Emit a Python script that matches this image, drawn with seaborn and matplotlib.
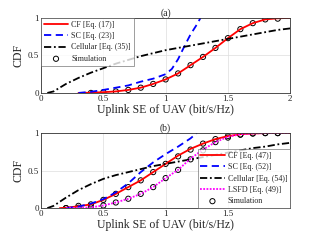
import numpy as np
import pandas as pd
import matplotlib
matplotlib.use("Agg")
import matplotlib.pyplot as plt
import seaborn as sns

# ---------------- data: panel (a) ----------------
a_cf_x = [0.3, 0.4, 0.5, 0.6, 0.7, 0.8, 0.9, 1.0, 1.1, 1.2, 1.3, 1.4, 1.5, 1.6, 1.7, 1.8, 1.9, 2.0]
a_cf_y = [0.0, 0.003, 0.01, 0.02, 0.04, 0.07, 0.12, 0.18, 0.26, 0.37, 0.48, 0.60, 0.73, 0.85, 0.93, 0.98, 0.995, 1.0]
a_sc_x = [0.3, 0.4, 0.5, 0.6, 0.7, 0.8, 0.9, 1.0, 1.05, 1.1, 1.15, 1.2, 1.25, 1.28]
a_sc_y = [0.0, 0.015, 0.04, 0.07, 0.1, 0.15, 0.19, 0.25, 0.32, 0.45, 0.62, 0.78, 0.91, 1.0]
a_cell_x = [0.05, 0.1, 0.15, 0.2, 0.3, 0.4, 0.5, 0.6, 0.7, 0.8, 0.9, 1.0, 1.1, 1.2, 1.3, 1.4, 1.5, 1.6, 1.7, 1.8, 1.9, 2.0]
a_cell_y = [0.0, 0.02, 0.07, 0.12, 0.2, 0.27, 0.33, 0.39, 0.44, 0.49, 0.53, 0.57, 0.6, 0.63, 0.66, 0.69, 0.72, 0.75, 0.78, 0.81, 0.84, 0.86]
a_sim_x = [0.4, 0.5, 0.6, 0.7, 0.8, 0.9, 1.0, 1.1, 1.2, 1.3, 1.4, 1.5, 1.6, 1.7, 1.8, 1.9]
a_sim_y = [0.0, 0.01, 0.02, 0.04, 0.07, 0.12, 0.18, 0.26, 0.37, 0.48, 0.60, 0.73, 0.85, 0.93, 0.98, 0.99]

# ---------------- data: panel (b) ----------------
b_cf_x = [0.15, 0.2, 0.3, 0.4, 0.5, 0.6, 0.7, 0.8, 0.9, 1.0, 1.1, 1.2, 1.3, 1.4, 1.5, 1.6, 1.7, 1.8, 1.9, 2.0]
b_cf_y = [0.0, 0.005, 0.025, 0.05, 0.11, 0.19, 0.28, 0.37, 0.48, 0.59, 0.70, 0.79, 0.86, 0.92, 0.96, 0.985, 0.995, 1.0, 1.0, 1.0]
b_sc_x = [0.2, 0.3, 0.4, 0.5, 0.6, 0.7, 0.8, 0.9, 1.0, 1.1, 1.2, 1.25]
b_sc_y = [0.0, 0.02, 0.06, 0.12, 0.21, 0.33, 0.48, 0.61, 0.72, 0.82, 0.93, 1.0]
b_cell_x = [0.05, 0.1, 0.2, 0.3, 0.4, 0.5, 0.6, 0.7, 0.8, 0.9, 1.0, 1.1, 1.2, 1.3, 1.4, 1.5, 1.6, 1.7, 1.8, 1.9, 2.0]
b_cell_y = [0.0, 0.03, 0.14, 0.24, 0.32, 0.39, 0.44, 0.48, 0.52, 0.56, 0.59, 0.62, 0.65, 0.68, 0.71, 0.74, 0.77, 0.8, 0.82, 0.85, 0.87]
b_lsfd_x = [0.2, 0.3, 0.4, 0.5, 0.6, 0.7, 0.8, 0.9, 1.0, 1.1, 1.2, 1.3, 1.4, 1.5, 1.6, 1.7, 1.8, 1.9, 2.0]
b_lsfd_y = [0.0, 0.003, 0.01, 0.035, 0.075, 0.125, 0.19, 0.28, 0.40, 0.51, 0.66, 0.78, 0.88, 0.95, 0.985, 0.995, 1.0, 1.0, 1.0]
b_sim_x = [0.2, 0.3, 0.4, 0.5, 0.6, 0.7, 0.8, 0.9, 1.0, 1.1, 1.2, 1.3, 1.4, 1.5, 1.6, 1.7, 1.8, 1.9]
b_sim_cf_y = [0.0, 0.03, 0.05, 0.11, 0.19, 0.28, 0.37, 0.48, 0.59, 0.69, 0.78, 0.86, 0.92, 0.96, 0.98, 0.995, 1.0, 1.0]
b_sim_lsfd_y = [0.0, 0.005, 0.01, 0.035, 0.075, 0.125, 0.19, 0.28, 0.40, 0.51, 0.65, 0.77, 0.88, 0.94, 0.98, 0.995, 1.0, 1.0]

xlabel = "Uplink SE of UAV (bit/s/Hz)"
ylabel = "CDF"

sns.set_style("whitegrid")
plt.rcParams['font.family'] = ['Liberation Serif', 'DejaVu Serif']

fig = plt.figure(figsize=(3.21, 2.42), dpi=100)
axA = fig.add_axes([0.128, 0.616, 0.776, 0.31])
axB = fig.add_axes([0.128, 0.14, 0.776, 0.31])

lw = 1.3

def style_axis(ax, title, xticks, xticklabels):
    ax.set_xlim(0, 2)
    ax.set_ylim(0, 1)
    ax.set_xticks(xticks)
    ax.set_xticklabels(xticklabels)
    ax.set_yticks([0, 0.5, 1])
    ax.set_yticklabels(["0", "0.5", "1"])
    ax.tick_params(labelsize=6.5, length=0, pad=1.5)
    ax.set_xlabel(xlabel, fontsize=8.5, labelpad=0.5)
    ax.set_ylabel(ylabel, fontsize=8.5, labelpad=2)
    ax.set_title(title, fontsize=7, pad=1.5)
    ax.grid(True, color="#dddddd", linewidth=0.5)
    for s in ax.spines.values():
        s.set_color("#333333")
        s.set_linewidth(0.6)

# panel (a)
sns.lineplot(x=a_cf_x, y=a_cf_y, ax=axA, color="red", lw=lw, label="CF [Eq. (17)]")
sns.lineplot(x=a_sc_x, y=a_sc_y, ax=axA, color="blue", lw=lw, linestyle=(0, (4, 2.5)), label="SC [Eq. (23)]")
sns.lineplot(x=a_cell_x, y=a_cell_y, ax=axA, color="black", lw=lw, linestyle=(0, (4, 1.5, 1, 1.5)), label="Cellular [Eq. (35)]")
sns.scatterplot(x=a_sim_x, y=a_sim_y, ax=axA, marker="o", s=14, facecolors="none", edgecolor="black", linewidth=0.7, label="Simulation")
style_axis(axA, "(a)", [0, 0.5, 1, 1.5, 2], ["0", "0.5", "1", "1.5", "2"])
legA = axA.legend(loc="upper left", fontsize=5.8, frameon=True, fancybox=False, borderpad=0.35,
                  handlelength=3.0, handletextpad=0.4, labelspacing=0.42, borderaxespad=0)
legA.get_frame().set_edgecolor("#555555")
legA.get_frame().set_linewidth(0.5)

# panel (b)
sns.lineplot(x=b_cf_x, y=b_cf_y, ax=axB, color="red", lw=lw, label="CF [Eq. (47)]")
sns.lineplot(x=b_sc_x, y=b_sc_y, ax=axB, color="blue", lw=lw, linestyle=(0, (4, 2.5)), label="SC [Eq. (52)]")
sns.lineplot(x=b_cell_x, y=b_cell_y, ax=axB, color="black", lw=lw, linestyle=(0, (4, 1.5, 1, 1.5)), label="Cellular [Eq. (54)]")
sns.lineplot(x=b_lsfd_x, y=b_lsfd_y, ax=axB, color="magenta", lw=lw, linestyle=(0, (1, 0.8)), label="LSFD [Eq. (49)]")
sns.scatterplot(x=b_sim_x, y=b_sim_cf_y, ax=axB, marker="o", s=14, facecolors="none", edgecolor="black", linewidth=0.7, label="Simulation")
sns.scatterplot(x=b_sim_x, y=b_sim_lsfd_y, ax=axB, marker="o", s=14, facecolors="none", edgecolor="black", linewidth=0.7)
style_axis(axB, "(b)", [0, 0.5, 1, 1.5], ["0", "0.5", "1", "1.5"])
legB = axB.legend(loc="lower right", fontsize=5.8, frameon=True, fancybox=False, borderpad=0.35,
                  handlelength=3.0, handletextpad=0.4, labelspacing=0.42, borderaxespad=0)
legB.get_frame().set_edgecolor("#555555")
legB.get_frame().set_linewidth(0.5)

fig.savefig("out.png", dpi=100)
